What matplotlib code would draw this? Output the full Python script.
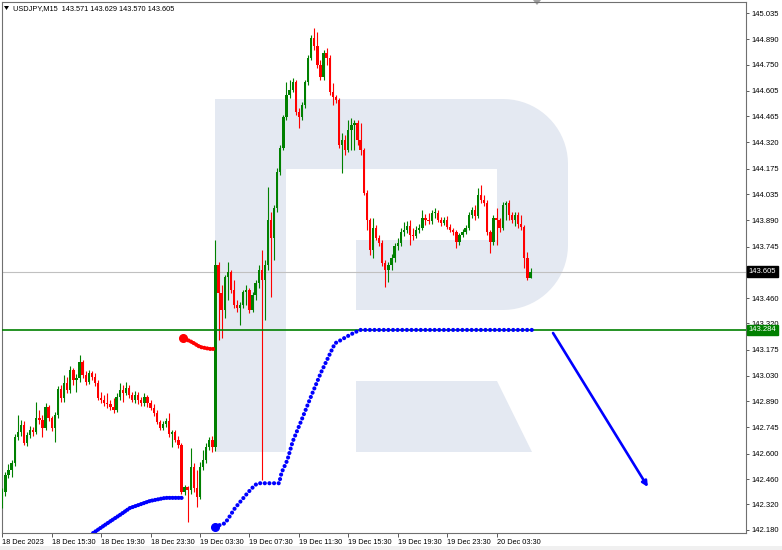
import numpy as np
import matplotlib.pyplot as plt
from matplotlib.patches import Polygon, Rectangle

plt.rcParams['font.family'] = ['Liberation Sans', 'DejaVu Sans']

# USDJPY M15, 18 Dec 2023 11:30 .. 20 Dec 2023 06:15 (bar open = previous close)
first_open = 142.328
closes = [
    142.389, 142.483, 142.510, 142.549, 142.693, 142.720, 142.759, 142.660, 142.704, 142.731,
    142.720, 142.798, 142.787, 142.742, 142.858, 142.798, 142.742, 142.814, 142.958, 142.908,
    142.991, 142.952, 143.063, 143.008, 143.019, 143.107, 143.035, 142.997, 143.046, 143.024,
    142.991, 142.908, 142.897, 142.880, 142.875, 142.858, 142.842, 142.914, 142.952, 142.936,
    142.963, 142.925, 142.897, 142.925, 142.897, 142.880, 142.914, 142.880, 142.853, 142.825,
    142.775, 142.742, 142.764, 142.781, 142.709, 142.720, 142.676, 142.648, 142.389, 142.416,
    142.400, 142.527, 142.411, 142.361, 142.527, 142.566, 142.637, 142.676, 142.637, 143.643,
    143.488, 143.394, 143.577, 143.604, 143.505, 143.422, 143.405, 143.422, 143.494, 143.505,
    143.394, 143.477, 143.543, 143.615, 143.560, 143.643, 143.892, 143.792, 143.958, 144.157,
    144.289, 144.461, 144.582, 144.610, 144.654, 144.488, 144.461, 144.527, 144.654, 144.787,
    144.897, 144.853, 144.748, 144.682, 144.814, 144.787, 144.599, 144.571, 144.555, 144.306,
    144.334, 144.278, 144.389, 144.416, 144.427, 144.334, 144.278, 144.041, 143.892, 143.726,
    143.847, 143.792, 143.764, 143.654, 143.615, 143.643, 143.682, 143.748, 143.764, 143.825,
    143.836, 143.858, 143.809, 143.803, 143.836, 143.847, 143.903, 143.892, 143.886, 143.930,
    143.930, 143.892, 143.875, 143.892, 143.853, 143.836, 143.825, 143.770, 143.809, 143.825,
    143.847, 143.919, 143.947, 143.914, 144.030, 144.002, 143.985, 143.825, 143.770, 143.903,
    143.892, 143.847, 143.974, 143.985, 143.919, 143.892, 143.919, 143.869, 143.853, 143.682,
    143.571, 143.605,
]
highs = [
    142.411, 142.499, 142.543, 142.566, 142.709, 142.814, 142.787, 142.781, 142.720, 142.753,
    142.748, 142.886, 142.842, 142.814, 142.880, 142.869, 142.809, 142.831, 142.974, 142.980,
    143.035, 143.024, 143.085, 143.074, 143.041, 143.146, 143.118, 143.057, 143.063, 143.057,
    143.046, 143.008, 142.941, 142.925, 142.936, 142.897, 142.908, 142.936, 142.991, 142.980,
    142.997, 142.980, 142.941, 142.947, 142.941, 142.914, 142.936, 142.925, 142.897, 142.875,
    142.842, 142.787, 142.781, 142.798, 142.825, 142.731, 142.731, 142.698, 142.660, 142.427,
    142.422, 142.632, 142.549, 142.510, 142.555, 142.621, 142.660, 142.693, 142.698, 143.781,
    143.660, 143.533, 143.588, 143.660, 143.615, 143.560, 143.450, 143.439, 143.505, 143.533,
    143.516, 143.494, 143.560, 143.643, 143.726, 143.671, 144.074, 143.936, 143.974, 144.179,
    144.306, 144.472, 144.654, 144.665, 144.676, 144.665, 144.510, 144.543, 144.665, 144.803,
    144.914, 144.952, 144.930, 144.776, 144.831, 144.842, 144.803, 144.648, 144.582, 144.566,
    144.372, 144.361, 144.444, 144.455, 144.444, 144.444, 144.427, 144.289, 144.057, 143.903,
    143.903, 143.864, 143.809, 143.781, 143.671, 143.660, 143.704, 143.764, 143.792, 143.847,
    143.880, 143.886, 143.892, 143.847, 143.858, 143.869, 143.947, 143.925, 143.930, 143.947,
    143.958, 143.947, 143.908, 143.908, 143.914, 143.870, 143.847, 143.836, 143.820, 143.842,
    143.864, 143.936, 143.963, 143.974, 144.068, 144.085, 144.030, 144.002, 143.836, 143.919,
    143.958, 143.903, 143.991, 143.996, 144.002, 143.936, 143.936, 143.936, 143.919, 143.864,
    143.715, 143.629,
]
lows = [
    142.300, 142.367, 142.466, 142.472, 142.532, 142.676, 142.698, 142.648, 142.643, 142.687,
    142.698, 142.709, 142.764, 142.693, 142.731, 142.781, 142.726, 142.665, 142.798, 142.886,
    142.886, 142.936, 142.936, 142.980, 142.941, 142.997, 143.019, 142.980, 142.985, 143.008,
    142.974, 142.897, 142.880, 142.864, 142.853, 142.842, 142.825, 142.831, 142.897, 142.886,
    142.925, 142.908, 142.886, 142.880, 142.875, 142.864, 142.864, 142.858, 142.842, 142.809,
    142.764, 142.731, 142.731, 142.748, 142.693, 142.637, 142.665, 142.632, 142.378, 142.372,
    142.223, 142.378, 142.389, 142.306, 142.350, 142.510, 142.549, 142.621, 142.610, 142.615,
    143.229, 143.240, 143.350, 143.450, 143.488, 143.405, 143.383, 143.311, 143.405, 143.422,
    143.378, 143.383, 143.450, 143.516, 142.455, 143.339, 143.615, 143.466, 143.671, 143.936,
    144.140, 144.278, 144.444, 144.566, 144.599, 144.472, 144.400, 144.444, 144.510, 144.637,
    144.776, 144.831, 144.731, 144.665, 144.665, 144.748, 144.582, 144.527, 144.538, 144.289,
    144.151, 144.251, 144.267, 144.278, 144.278, 144.306, 144.251, 144.030, 143.836, 143.698,
    143.682, 143.781, 143.748, 143.638, 143.522, 143.550, 143.615, 143.660, 143.726, 143.748,
    143.803, 143.820, 143.754, 143.781, 143.792, 143.820, 143.836, 143.864, 143.870, 143.870,
    143.903, 143.881, 143.858, 143.864, 143.842, 143.825, 143.809, 143.737, 143.754, 143.798,
    143.814, 143.836, 143.903, 143.892, 143.903, 143.985, 143.969, 143.809, 143.709, 143.754,
    143.754, 143.825, 143.836, 143.892, 143.892, 143.875, 143.858, 143.847, 143.836, 143.626,
    143.560, 143.570,
]

# dotted indicator segments (bar index, price)
sar1_bar = [29.4, 34.9, 38.1, 41.3, 47.8, 52.7, 58.5]
sar1_price = [142.162, 142.226, 142.262, 142.300, 142.339, 142.356, 142.356]
sar2_bar = [68.9, 72.1, 73.2, 75.3, 77.5, 79.6, 81.8, 82.9, 89.6, 90.4, 92.3, 94.0,
            96.9, 100.0, 103.1, 106.4, 107.7, 109.3, 111.5, 113.6, 115.8, 171.5]
sar2_price = [142.197, 142.216, 142.243, 142.299, 142.344, 142.387, 142.427, 142.437,
              142.437, 142.495, 142.566, 142.667, 142.787, 142.919, 143.046, 143.164,
              143.210, 143.225, 143.247, 143.266, 143.284, 143.284]
red_bar = [58.5, 61.4, 64.0, 67.2, 68.5]
red_price = [143.240, 143.217, 143.190, 143.179, 143.179]

level_price = 143.284
last_price = 143.605
arrow_bar = [178.3, 209.0]
arrow_price = [143.267, 142.416]

xtick_bars = [0, 16, 32, 48, 64, 80, 96, 112, 128, 144, 160]
xtick_labels = ['18 Dec 2023', '18 Dec 15:30', '18 Dec 19:30', '18 Dec 23:30',
                '19 Dec 03:30', '19 Dec 07:30', '19 Dec 11:30', '19 Dec 15:30',
                '19 Dec 19:30', '19 Dec 23:30', '20 Dec 03:30']
yticks = [145.035, 144.890, 144.750, 144.605, 144.465, 144.320, 144.175, 144.035,
          143.890, 143.745, 143.605, 143.460, 143.320, 143.175, 143.030, 142.890,
          142.745, 142.600, 142.460, 142.320, 142.180]
header = 'USDJPY,M15  143.571 143.629 143.570 143.605'

W, H = 782, 550
fig = plt.figure(figsize=(W / 100, H / 100), dpi=100)
fig.patch.set_facecolor('white')

# background layer in pixel coordinates: watermark logo etc.
bg = fig.add_axes([0, 0, 1, 1], zorder=0)
bg.set_xlim(0, W)
bg.set_ylim(H, 0)
bg.axis('off')
logo = '#e4e9f2'
r = 65
a1 = np.linspace(-np.pi / 2, 0, 20)
a2 = np.linspace(0, np.pi / 2, 20)
outline = [(215, 99)]
outline += list(zip(503 + r * np.cos(a1), 164 + r * np.sin(a1)))
outline += list(zip(503 + r * np.cos(a2), 245 + r * np.sin(a2)))
outline += [(356, 310), (356, 240), (497, 240), (497, 169), (286, 169), (286, 452), (215, 452)]
bg.add_patch(Polygon(outline, closed=True, fc=logo, ec='none'))
bg.add_patch(Polygon([(356, 381), (497, 381), (532, 452), (356, 452)], closed=True, fc=logo, ec='none'))
bg.add_patch(Rectangle((0, 546), W, 4, fc='#f0f0f0', ec='none'))
bg.add_patch(Polygon([(4, 6), (9, 6), (6.5, 10)], closed=True, fc='black', ec='none'))
bg.add_patch(Polygon([(533, 0), (541, 0), (537, 5)], closed=True, fc='#a0a0a0', ec='none'))

ax = fig.add_axes([2 / W, 1 - 533 / H, 744 / W, 531 / H], zorder=1)
ax.set_facecolor('none')

o = np.array([first_open] + closes[:-1])
c = np.array(closes)
hi = np.maximum(np.array(highs), np.maximum(o, c))
lo = np.minimum(np.array(lows), np.minimum(o, c))
x = np.arange(len(c))
up = c >= o
colors = np.where(up, '#008000', '#ff0000')

ax.vlines(x, lo, hi, colors=colors, lw=0.8, zorder=3)
body = np.maximum(np.abs(c - o), 0.003)
ax.bar(x, body, bottom=np.minimum(o, c), width=0.75, color=colors, lw=0, zorder=4)

ax.axhline(last_price, color='#c0c0c0', lw=0.8, zorder=2)
ax.axhline(level_price, color='#008000', lw=1.2, zorder=5)

ax.plot(sar1_bar, sar1_price, color='#0000ff', lw=3.0, ls=(0, (0.01, 0.7)),
        dash_capstyle='round', zorder=6)
ax.plot(sar2_bar, sar2_price, color='#0000ff', lw=3.0, ls=(0, (0.01, 1.1)),
        dash_capstyle='round', zorder=6)
ax.plot(sar2_bar[0], sar2_price[0], 'o', color='#0000ff', ms=5.5, zorder=6)
ax.plot(red_bar, red_price, color='#ff0000', lw=3.0, ls=(0, (0.01, 0.7)),
        dash_capstyle='round', zorder=6)
ax.plot(red_bar[0], red_price[0], 'o', color='#ff0000', ms=5.5, zorder=6)

ax.annotate('', xy=(arrow_bar[1], arrow_price[1]), xytext=(arrow_bar[0], arrow_price[0]),
            arrowprops=dict(arrowstyle='-|>', color='#0000ff', lw=1.9, mutation_scale=8,
                            shrinkA=0, shrinkB=0), zorder=7)

ax.set_xlim(-0.1, 240.76)
ax.set_ylim(142.162, 145.096)

ax.set_xticks(xtick_bars)
ax.set_xticklabels(xtick_labels)
for lab in ax.get_xticklabels():
    lab.set_horizontalalignment('left')
ax.yaxis.tick_right()
ax.set_yticks(yticks)
# the 143.605 scale label sits under the current-price box
ax.set_yticklabels(['' if v == last_price else f'{v:.3f}' for v in yticks])
ax.tick_params(axis='x', length=3, width=0.6, pad=1.5, labelsize=5.3, color='#404040')
ax.tick_params(axis='y', length=2.5, width=0.6, pad=1.5, labelsize=5.5, color='#404040')
for s in ax.spines.values():
    s.set_color('#707070')
    s.set_linewidth(0.8)

# price labels on the right scale
ax.annotate(f'{last_price:.3f}', xy=(1.0035, last_price), xycoords=('axes fraction', 'data'),
            va='center', ha='left', fontsize=5.5, color='white', annotation_clip=False,
            bbox=dict(boxstyle='square,pad=0.25', fc='black', ec='black'), zorder=10)
ax.annotate(f'{level_price:.3f}', xy=(1.0035, level_price), xycoords=('axes fraction', 'data'),
            va='center', ha='left', fontsize=5.5, color='white', annotation_clip=False,
            bbox=dict(boxstyle='square,pad=0.25', fc='#008000', ec='#008000'), zorder=10)

fig.text(13 / W, 1 - 8.5 / H, header, fontsize=5.3, va='center', ha='left')

fig.savefig('out.png', dpi=100)
